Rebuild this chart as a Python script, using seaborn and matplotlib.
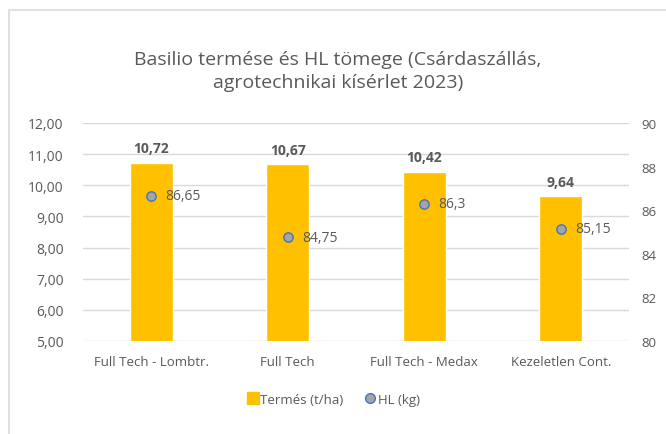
import pandas as pd
import numpy as np
import matplotlib.pyplot as plt
import seaborn as sns
from matplotlib.patches import Rectangle
from matplotlib.lines import Line2D

categories = ["Full Tech - Lombtr.", "Full Tech", "Full Tech - Medax", "Kezeletlen Cont."]
termes = [10.72, 10.67, 10.42, 9.64]
hl = [86.65, 84.75, 86.3, 85.15]
hl_labels = ["86,65", "84,75", "86,3", "85,15"]

def hu(v, d=2):
    return f"{v:.{d}f}".replace(".", ",")

sns.set_style("white")
plt.rcParams['font.family'] = ['Open Sans', 'DejaVu Sans']
grey = "#595959"

df = pd.DataFrame({"kat": categories, "termes": termes, "hl": hl})

fig = plt.figure(figsize=(6.66, 4.35), dpi=100)
# chart frame: only left and top edges fall inside the picture
fig.patches.append(Rectangle((0.0128, -0.1), 1.2, 1.0736, transform=fig.transFigure,
                             fill=False, edgecolor="#E0E0E0", linewidth=1.5))
ax = fig.add_axes([0.1246, 0.214, 0.82, 0.501])
sns.barplot(data=df, x="kat", y="termes", color="#FFC000", width=0.315, ax=ax, saturation=1)
ax.set_ylim(5, 12)
yt = np.arange(5, 12.01, 1)
ax.set_yticks(yt)
ax.set_yticklabels([hu(v) for v in yt], color=grey, fontsize=10)
ax.set_xlabel("")
ax.set_ylabel("")
ax.tick_params(axis="x", colors=grey, labelsize=9.5, length=0, pad=10)
ax.tick_params(axis="y", length=0, pad=14)
ax.grid(axis="y", color="#D9D9D9", linewidth=1)
ax.set_axisbelow(True)
for s in ax.spines.values():
    s.set_visible(False)
for i, v in enumerate(termes):
    ax.text(i, v + 0.25, hu(v), ha="center", va="bottom", fontsize=10,
            fontweight="bold", color=grey)
ax.set_xlim(-0.5, 3.5)

ax2 = ax.twinx()
sns.scatterplot(x=np.arange(len(hl)), y=hl, ax=ax2, s=45, color="#A5A5A5",
                edgecolor="#4472C4", linewidth=1, zorder=5)
ax2.set_ylim(80, 90)
ax2.set_yticks(np.arange(80, 91, 2))
ax2.tick_params(axis="y", colors=grey, labelsize=9.5, length=0, pad=9)
for s in ax2.spines.values():
    s.set_visible(False)
ax2.grid(False)
for i, v in enumerate(hl):
    ax2.text(i + 0.105, v, hl_labels[i], ha="left", va="center", fontsize=10, color=grey)
ax2.set_xlim(-0.5, 3.5)

fig.text(0.507, 0.835, "Basilio termése és HL tömege (Csárdaszállás,\nagrotechnikai kísérlet 2023)",
         ha="center", va="center", fontsize=14, color=grey, linespacing=1.35)

handles = [Line2D([0], [0], marker="s", linestyle="", markersize=8, color="#FFC000"),
           Line2D([0], [0], marker="o", linestyle="", markersize=7, markerfacecolor="#A5A5A5",
                  markeredgecolor="#4472C4")]
fig.legend(handles, ["Termés (t/ha)", "HL (kg)"], loc="center", bbox_to_anchor=(0.5, 0.08),
           ncol=2, frameon=False, fontsize=9.5, labelcolor=grey, handletextpad=0.1,
           columnspacing=1.5, handlelength=1)

plt.savefig("out.png", dpi=100)
